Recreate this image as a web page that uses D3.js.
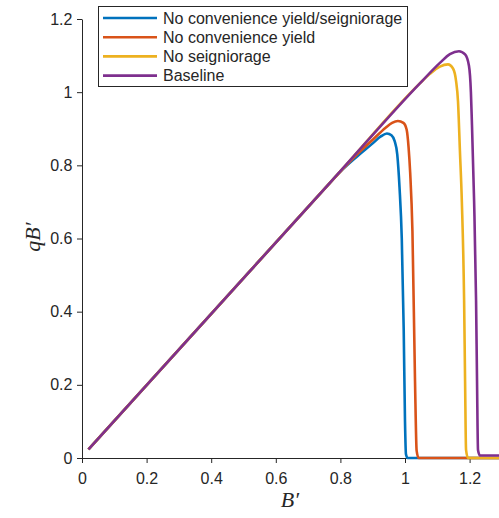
<!DOCTYPE html>
<html>
<head>
<meta charset="utf-8">
<script src="https://d3js.org/d3.v7.min.js"></script>
<style>
	body{ margin:0; background:#fff; }
	text{ font-family: "Liberation Sans", Arial, sans-serif; fill:#262626; }
	.line{ fill:none; stroke-width:2.6; stroke-linejoin:round; }
</style>
</head>
<body>
<script>
	// series labels and colours (MATLAB defaults)
	var names = ["No convenience yield/seigniorage", "No convenience yield", "No seigniorage", "Baseline"];
	var colors = ["#0072BD", "#D95319", "#EDB120", "#7E2F8E"];

	// B' values and qB' values
	var bBlue = [0.02, 0.40, 0.75, 0.80, 0.85, 0.90, 0.925, 0.944, 0.958, 0.968, 0.976, 0.983, 0.990, 0.996, 1.000, 1.003, 1.008, 1.30];
	var qBlue = [0.0235, 0.394, 0.735, 0.783, 0.823, 0.860, 0.879, 0.887, 0.882, 0.866, 0.83, 0.74, 0.60, 0.35, 0.10, 0.01, 0, 0];

	var bRed = [0.02, 0.40, 0.75, 0.80, 0.85, 0.90, 0.94, 0.96, 0.978, 0.995, 1.005, 1.011, 1.016, 1.023, 1.031, 1.036, 1.042, 1.30];
	var qRed = [0.0235, 0.394, 0.735, 0.783, 0.829, 0.870, 0.903, 0.916, 0.921, 0.916, 0.898, 0.85, 0.78, 0.62, 0.21, 0.02, 0, 0];

	var bYellow = [0.02, 0.40, 0.75, 0.80, 1.046, 1.077, 1.108, 1.133, 1.149, 1.158, 1.164, 1.170, 1.176, 1.183, 1.186, 1.189, 1.195, 1.30];
	var qYellow = [0.0235, 0.394, 0.735, 0.784, 1.024, 1.050, 1.070, 1.076, 1.064, 1.031, 0.976, 0.84, 0.70, 0.43, 0.21, 0.022, 0, 0];

	var bPurple = [0.02, 0.40, 0.75, 0.80, 1.046, 1.108, 1.139, 1.167, 1.186, 1.198, 1.204, 1.207, 1.214, 1.220, 1.223, 1.226, 1.232, 1.30];
	var qPurple = [0.0235, 0.394, 0.735, 0.784, 1.024, 1.080, 1.104, 1.112, 1.103, 1.072, 1.0, 0.92, 0.70, 0.43, 0.21, 0.022, 0.007, 0.007];

	var xTicks = [0, 0.2, 0.4, 0.6, 0.8, 1, 1.2];
	var yTicks = [0, 0.2, 0.4, 0.6, 0.8, 1, 1.2];

	var width = 499, height = 518;
	var svg = d3.select("body").append("svg")
				.attr("width", width).attr("height", height);

	var x = d3.scaleLinear().domain([0, 1.291]).range([82, 499]);
	var y = d3.scaleLinear().domain([0, 1.2]).range([458, 19]);

	// axes
	var xAxis = svg.append("g").attr("transform", "translate(0,458)")
				.call(d3.axisBottom(x).tickValues(xTicks).tickSize(5).tickSizeOuter(0)
					.tickFormat(d3.format("~g")));
	var yAxis = svg.append("g").attr("transform", "translate(82,0)")
				.call(d3.axisLeft(y).tickValues(yTicks).tickSize(5).tickSizeOuter(0)
					.tickFormat(d3.format("~g")));

	[xAxis, yAxis].forEach(function(a){
		a.selectAll("path, line").attr("stroke", "#262626").attr("stroke-width", 1);
		a.selectAll("text").attr("font-size", 16).attr("font-family", "Liberation Sans, Arial, sans-serif")
			.attr("fill", "#262626");
	});
	xAxis.selectAll("text").attr("dy", "1.1em");
	yAxis.selectAll("text").attr("dx", "-0.1em");

	// axis titles
	svg.append("text").attr("x", 290).attr("y", 507).attr("text-anchor", "middle")
		.style("font-family", "Liberation Serif, DejaVu Serif, serif").style("font-style", "italic")
		.attr("font-size", 22).text("B′");
	svg.append("text").attr("transform", "translate(40,237) rotate(-90)").attr("text-anchor", "middle")
		.style("font-family", "Liberation Serif, DejaVu Serif, serif").style("font-style", "italic")
		.attr("font-size", 22).text("qB′");

	// lines
	var series = [[bBlue, qBlue], [bRed, qRed], [bYellow, qYellow], [bPurple, qPurple]];
	var line = d3.line().x(function(d){ return x(d[0]); }).y(function(d){ return y(d[1]); })
				.curve(d3.curveMonotoneX);

	svg.append("g").selectAll("path")
		.data(series)
		.enter().append("path")
		.attr("class", "line")
		.attr("stroke", function(d, i){ return colors[i]; })
		.attr("d", function(d){ return line(d3.zip(d[0], d[1])); });

	// legend
	var legend = svg.append("g");
	legend.append("rect").attr("x", 98.5).attr("y", 6.5).attr("width", 309).attr("height", 80)
		.attr("fill", "#fff").attr("stroke", "#262626").attr("stroke-width", 1);

	var rows = legend.selectAll("g.row").data(names).enter().append("g")
		.attr("transform", function(d, i){ return "translate(0," + (18 + i * 19.2) + ")"; });
	rows.append("line").attr("x1", 103).attr("x2", 157).attr("y1", 0).attr("y2", 0)
		.attr("stroke", function(d, i){ return colors[i]; }).attr("stroke-width", 2.6);
	rows.append("text").attr("x", 163).attr("y", 0).attr("dy", "0.35em")
		.attr("font-size", 16).text(function(d){ return d; });
</script>
</body>
</html>
